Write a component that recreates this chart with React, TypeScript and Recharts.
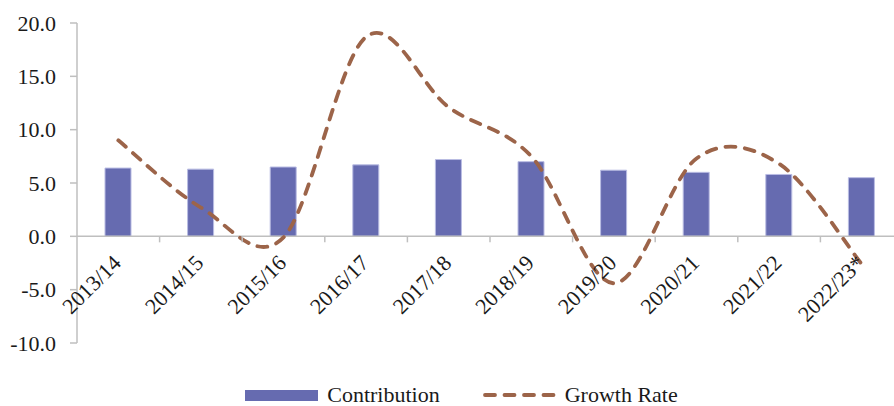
import { ComposedChart, Bar, Line, XAxis, YAxis, ReferenceLine, Legend } from 'recharts'

const years = ['2013/14', '2014/15', '2015/16', '2016/17', '2017/18', '2018/19', '2019/20', '2020/21', '2021/22', '2022/23*']
const contribution = [6.4, 6.3, 6.5, 6.7, 7.2, 7.0, 6.2, 6.0, 5.8, 5.5]
const growthRate = [9.0, 2.7, -0.1, 18.7, 12.1, 7.5, -4.4, 7.3, 6.8, -2.6]
const yTicks = [-10, -5, 0, 5, 10, 15, 20]

const data = years.map((year, i) => ({ year, contribution: contribution[i], growth: growthRate[i] }))

const W = 910
const H = 406
const TOP = 23
const LEFT = 77
const RIGHT = 7
const XAXIS_H = 41
const LEGEND_H = 22
const PLOT_H = H - TOP - XAXIS_H - LEGEND_H
const PLOT_W = W - LEFT - RIGHT
const Y_MIN = -10
const Y_MAX = 20
const zeroY = TOP + (PLOT_H * Y_MAX) / (Y_MAX - Y_MIN)
const band = PLOT_W / years.length

const FONT = '"Liberation Serif", "Times New Roman", serif'
const FS = 22
const AXIS = '#BFBFBF'
const BAR = '#666BB0'
const LINE = '#9C6449'

// smooth curve like Excel's "smoothed line" (cardinal bezier)
function smoothCurve(context: any) {
  let pts: [number, number][] = []
  return {
    areaStart() {},
    areaEnd() {},
    lineStart() { pts = [] },
    point(x: number, y: number) { pts.push([x, y]) },
    lineEnd() {
      if (!pts.length) return
      context.moveTo(pts[0][0], pts[0][1])
      for (let i = 0; i < pts.length - 1; i++) {
        const p0 = pts[Math.max(i - 1, 0)]
        const p1 = pts[i]
        const p2 = pts[i + 1]
        const p3 = pts[Math.min(i + 2, pts.length - 1)]
        const c1x = p1[0] + (p2[0] - p0[0]) / 6
        const c1y = p1[1] + (p2[1] - p0[1]) / 6
        const c2x = p2[0] - (p3[0] - p1[0]) / 6
        const c2y = p2[1] - (p3[1] - p1[1]) / 6
        context.bezierCurveTo(c1x, c1y, c2x, c2y, p2[0], p2[1])
      }
    },
  }
}

function CategoryTick(props: any) {
  const { x, payload, index } = props
  const left = x - band / 2
  const tx = x + 4
  const ty = zeroY + 28
  return (
    <g>
      {index > 0 && <line x1={left} x2={left} y1={zeroY} y2={zeroY + 6} stroke={AXIS} strokeWidth={1.5} />}
      <text
        x={tx}
        y={ty}
        textAnchor="end"
        fontSize={FS}
        fontFamily={FONT}
        fill="#1a1a1a"
        transform={`rotate(-45, ${tx}, ${ty})`}
      >
        {payload.value}
      </text>
    </g>
  )
}

function LegendContent() {
  return (
    <div style={{ display: 'flex', justifyContent: 'center', alignItems: 'center', paddingLeft: 20, height: LEGEND_H, fontFamily: FONT, fontSize: FS, color: '#1a1a1a' }}>
      <span style={{ display: 'inline-block', width: 73, height: 11, background: BAR, marginRight: 9 }} />
      <span style={{ marginRight: 43 }}>Contribution</span>
      <svg width={76} height={12} style={{ marginRight: 6 }}>
        <line x1={2} x2={74} y1={6} y2={6} stroke={LINE} strokeWidth={3.8} strokeDasharray="10 9.5" strokeLinecap="round" />
      </svg>
      <span>Growth Rate</span>
    </div>
  )
}

export default function App() {
  return (
    <div style={{ position: 'fixed', left: 0, top: 0, width: 894, height: 406, overflow: 'hidden', background: '#fff' }}>
      <ComposedChart width={W} height={H} data={data} margin={{ top: TOP, right: RIGHT, bottom: 0, left: 0 }}>
        <XAxis dataKey="year" axisLine={false} tickLine={false} height={XAXIS_H} tick={<CategoryTick />} interval={0} />
        <YAxis
          domain={[Y_MIN, Y_MAX]}
          ticks={yTicks}
          width={LEFT}
          tickFormatter={(v: number) => v.toFixed(1)}
          axisLine={{ stroke: AXIS, strokeWidth: 1.5 }}
          tickLine={{ stroke: AXIS, strokeWidth: 1.5 }}
          tickSize={7}
          tickMargin={14}
          tick={{ fontSize: FS, fontFamily: FONT, fill: '#1a1a1a' }}
        />
        <ReferenceLine y={0} stroke={AXIS} strokeWidth={1.5} />
        <Bar dataKey="contribution" barSize={26} fill={BAR} stroke="#B9BCE3" strokeWidth={1} isAnimationActive={false} />
        <Line
          dataKey="growth"
          type={smoothCurve as any}
          stroke={LINE}
          strokeWidth={3.8}
          strokeDasharray="10 9.5"
          strokeLinecap="round"
          dot={false}
          activeDot={false}
          isAnimationActive={false}
        />
        <Legend verticalAlign="bottom" height={LEGEND_H} content={<LegendContent />} />
      </ComposedChart>
    </div>
  )
}
